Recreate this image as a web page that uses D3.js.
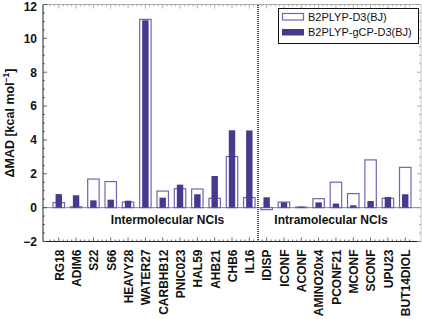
<!DOCTYPE html>
<html><head><meta charset="utf-8">
<script src="https://cdn.jsdelivr.net/npm/d3@7"></script>
<style>body{margin:0;background:#fff}svg{display:block}</style>
</head><body>
<svg id="c" width="422" height="319"></svg>
<script>
const categories = ["RG18","ADIM6","S22","S66","HEAVY28","WATER27","CARBHB12","PNIC023","HAL59","AHB21","CHB6","IL16","IDISP","ICONF","ACONF","AMINO20x4","PCONF21","MCONF","SCONF","UPU23","BUT14DIOL"];
const d3bj   = [0.30,0.05,1.69,1.54,0.33,11.12,0.98,1.12,1.10,0.55,3.02,0.59,-0.12,0.33,0.03,0.53,1.50,0.83,2.82,0.55,2.38];
const gcpd3bj= [0.80,0.73,0.43,0.47,0.41,11.07,0.59,1.36,0.79,1.87,4.57,4.56,0.61,0.31,0.06,0.31,0.24,0.14,0.39,0.63,0.79];
const seriesNames = ["B2PLYP-D3(BJ)","B2PLYP-gCP-D3(BJ)"];
const yTicks = [-2,0,2,4,6,8,10,12];
const groups = [{label:"Intermolecular NCIs", from:0, to:11},{label:"Intramolecular NCIs", from:12, to:20}];

const svg = d3.select("#c");
const L=43, R=421, T=4.5, B=241.5;
const outlineCol="#6f66b2", fillCol="#453b8d";
const font="'Liberation Sans', Arial, Helvetica, sans-serif";

const x = d3.scaleBand().domain(categories).range([L,R]).paddingInner(0.27).paddingOuter(0.545);
const y = d3.scaleLinear().domain([-2,12]).range([B,T]);
const step = x.step();

// zero line
svg.append("line").attr("x1",L).attr("x2",R).attr("y1",y(0)).attr("y2",y(0)).attr("stroke","#8a8a8a").attr("stroke-width",1);

// outline bars
svg.append("g").selectAll("rect").data(categories).join("rect")
  .attr("x",d=>x(d)+0.6).attr("width",x.bandwidth()-1.2)
  .attr("y",(d,i)=>y(Math.max(0,d3bj[i]))).attr("height",(d,i)=>Math.abs(y(d3bj[i])-y(0)))
  .attr("fill","#fff").attr("stroke",outlineCol).attr("stroke-width",1.2);

// filled bars
const fw = step*0.37;
svg.append("g").selectAll("rect").data(categories).join("rect")
  .attr("x",d=>x(d)+x.bandwidth()/2-fw/2).attr("width",fw)
  .attr("y",(d,i)=>y(Math.max(0,gcpd3bj[i]))).attr("height",(d,i)=>Math.abs(y(gcpd3bj[i])-y(0)))
  .attr("fill",fillCol);

// frame
svg.append("line").attr("x1",L).attr("x2",L).attr("y1",T).attr("y2",B).attr("stroke","#222").attr("stroke-width",1);
svg.append("line").attr("x1",L).attr("x2",R).attr("y1",B).attr("y2",B).attr("stroke","#222").attr("stroke-width",1);
svg.append("line").attr("x1",L).attr("x2",R).attr("y1",T).attr("y2",T).attr("stroke","#999").attr("stroke-width",0.8);
svg.append("line").attr("x1",R).attr("x2",R).attr("y1",T).attr("y2",B).attr("stroke","#bbb").attr("stroke-width",0.8);

// y ticks (left & right)
const minor = d3.range(-2,12.01,0.5);
minor.forEach(v=>{
  const major = Math.abs(v%2)<1e-9;
  const len = major?4:2;
  svg.append("line").attr("x1",L).attr("x2",L+len).attr("y1",y(v)).attr("y2",y(v)).attr("stroke","#444").attr("stroke-width",0.8);
  svg.append("line").attr("x1",R).attr("x2",R-len).attr("y1",y(v)).attr("y2",y(v)).attr("stroke","#999").attr("stroke-width",0.8);
});
// x ticks (top & bottom)
categories.forEach(c=>{
  const cx = x(c)+x.bandwidth()/2;
  [-0.5,-0.25,0,0.25].forEach(o=>{
    const xx = cx+o*step; const len = o===0?4:2;
    svg.append("line").attr("x1",xx).attr("x2",xx).attr("y1",B).attr("y2",B-len).attr("stroke","#444").attr("stroke-width",0.8);
    svg.append("line").attr("x1",xx).attr("x2",xx).attr("y1",T).attr("y2",T+len).attr("stroke","#999").attr("stroke-width",0.8);
  });
});

// separator (dotted)
const sepX = Math.round((x(categories[11])+x(categories[12])+x.bandwidth())/2);
svg.append("line").attr("x1",sepX).attr("x2",sepX).attr("y1",Math.round(T)).attr("y2",Math.round(B))
  .attr("stroke","#4a4a4a").attr("stroke-width",2).attr("stroke-dasharray","1,1");

// y tick labels
svg.append("g").selectAll("text").data(yTicks).join("text")
  .attr("x",37).attr("y",d=>y(d)+(d===12?2:0)).attr("dy","0.36em").attr("text-anchor","end")
  .attr("font-family",font).attr("font-weight","bold").attr("font-size",12).attr("fill","#111")
  .text(d=>d<0?"\u2212"+Math.abs(d):d);

// x tick labels
svg.append("g").selectAll("text").data(categories).join("text")
  .attr("transform",d=>`translate(${x(d)+x.bandwidth()/2+0.5},${B+8}) rotate(-90)`)
  .attr("dy","0.36em").attr("text-anchor","end")
  .attr("font-family",font).attr("font-weight","bold").attr("font-size",12).attr("fill","#111")
  .text(d=>d);

// group labels
groups.forEach(g=>{
  const cx = g.from===0 ? 167.5 : 331;
  svg.append("text").attr("x",cx).attr("y",224).attr("text-anchor","middle")
    .attr("font-family",font).attr("font-weight","bold").attr("font-size",12).attr("fill","#111").text(g.label);
});

// y axis title
const yt = svg.append("text").attr("transform",`translate(14,${(T+B)/2}) rotate(-90)`).attr("text-anchor","middle")
  .attr("font-family",font).attr("font-weight","bold").attr("font-size",12.5).attr("fill","#111");
yt.append("tspan").text("\u0394MAD [kcal mol");
yt.append("tspan").attr("baseline-shift","super").attr("font-size",8.5).text("\u22121");
yt.append("tspan").text("]");

// legend
const lg = svg.append("g");
lg.append("rect").attr("x",278.5).attr("y",8.5).attr("width",140).attr("height",35).attr("fill","#fff").attr("stroke","#111").attr("stroke-width",1);
lg.append("rect").attr("x",282.5).attr("y",13.5).attr("width",21).attr("height",6.5).attr("fill","#fff").attr("stroke",outlineCol).attr("stroke-width",1.2);
lg.append("rect").attr("x",282).attr("y",29).attr("width",22).attr("height",6.5).attr("fill",fillCol);
seriesNames.forEach((s,i)=>{
  lg.append("text").attr("x",308).attr("y",20.5+i*15).attr("font-family",font).attr("font-size",11).attr("fill","#111").text(s);
});
</script>
</body></html>
